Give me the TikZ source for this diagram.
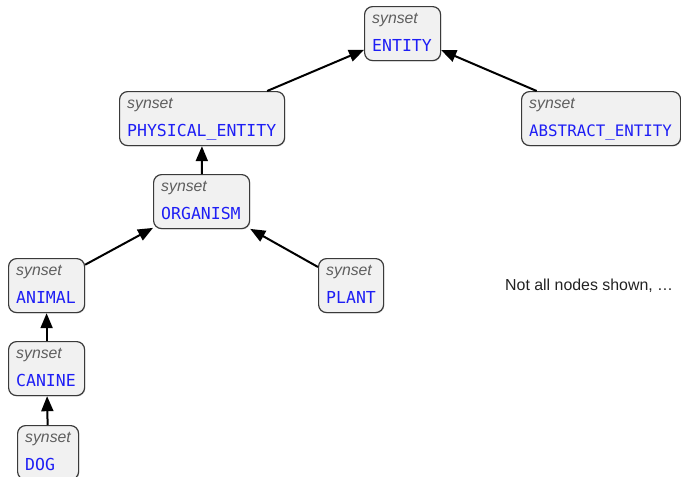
\documentclass[tikz,border=0pt]{standalone}
\usepackage{fontspec}
\setmainfont{Liberation Sans}
\newfontfamily\monofam{DejaVu Sans Mono}
\usetikzlibrary{arrows.meta,calc,shadows}

\definecolor{boxfill}{HTML}{F1F1F1}
\definecolor{boxline}{HTML}{3A3A3A}
\definecolor{synblue}{HTML}{1E1EF5}
\definecolor{syntag}{HTML}{5E5E5E}
\definecolor{notetext}{HTML}{222222}

\tikzset{
  synbox/.style={draw=boxline, fill=boxfill, line width=1.2pt,
    rounded corners=8pt, minimum height=54pt, inner sep=0pt,
    anchor=north west,
    drop shadow={shadow xshift=0.8pt, shadow yshift=-0.9pt, opacity=0.25}},
  tag/.style={font=\fontsize{15.8}{18}\selectfont\itshape, text=syntag,
    inner sep=0pt, anchor=base west},
  synname/.style={font=\monofam\fontsize{16.5}{18}\selectfont, text=synblue,
    inner sep=0pt, anchor=base west},
  note/.style={font=\fontsize{15.9}{18}\selectfont, text=notetext,
    inner sep=0pt, anchor=base west},
  isa/.style={-{Triangle[length=15pt,width=12pt]}, line width=2pt, black}
}

% #1 name, #2 x, #3 y (top-left corner), #4 width, #5 synset label
\newcommand\synsetnode[5]{%
  \node[synbox, minimum width=#4] (#1) at (#2,#3) {};
  \node[tag] (#1-tag) at ($(#1.north west)+(8,17)$) {synset};
  \node[synname] (#1-name) at ($(#1.north west)+(8,45)$) {#5};
}

\begin{document}
\begin{tikzpicture}[x=1pt,y=-1pt]
  \useasboundingbox (0,0) rectangle (681,477);

  \synsetnode{entity}{364}{6}{76}{ENTITY}
  \synsetnode{physical}{119}{91}{165}{PHYSICAL\_ENTITY}
  \synsetnode{abstract}{521}{91}{159}{\fontsize{15.8}{18}\selectfont ABSTRACT\_ENTITY}
  \synsetnode{organism}{153}{174}{96}{ORGANISM}
  \synsetnode{animal}{8}{258}{76}{ANIMAL}
  \synsetnode{plant}{318}{258}{65}{PLANT}
  \synsetnode{canine}{8}{341}{76}{CANINE}
  \synsetnode{dog}{17}{425}{61}{DOG}

  \node[note] (remark) at (505,290) {Not all nodes shown, …};

  % hypernym links
  \draw[isa] (physical) -- (entity);
  \draw[isa] (abstract) -- (entity);
  \draw[isa] (organism) -- (physical);
  \draw[isa] (animal) -- (organism);
  \draw[isa] (plant) -- (organism);
  \draw[isa] (canine) -- (animal);
  \draw[isa] (dog) -- (canine);
\end{tikzpicture}
\end{document}
